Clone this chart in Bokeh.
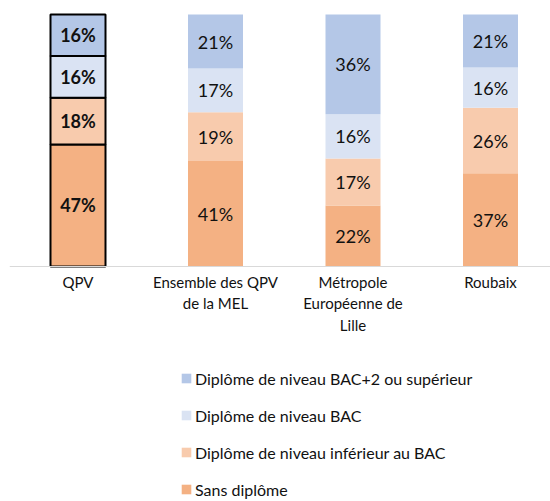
import numpy as np
from bokeh.plotting import figure
from bokeh.models import Range1d, FixedTicker, Legend, LegendItem
from bokeh.core.properties import value
from bokeh.embed import file_html
from bokeh.resources import INLINE

# ---- data ----
categories = ["QPV", "Ensemble des QPV\nde la MEL", "Métropole\nEuropéenne de\nLille", "Roubaix"]
series = ["Sans diplôme", "Diplôme de niveau inférieur au BAC",
          "Diplôme de niveau BAC", "Diplôme de niveau BAC+2 ou supérieur"]
sans_diplome = [47, 41, 22, 37]
inferieur_bac = [18, 19, 17, 26]
niveau_bac = [16, 17, 16, 16]
bac_plus_2 = [16, 21, 36, 21]
colors = ["#F4B183", "#F8CBAD", "#DAE3F3", "#B4C7E7"]
highlighted = ["QPV"]

FONT = "Lato"

vals = np.array([sans_diplome, inferieur_bac, niveau_bac, bac_plus_2], dtype=float)
frac = vals / vals.sum(axis=0)          # 100 % stacked
tops = np.cumsum(frac, axis=0)
bottoms = tops - frac
xs = np.arange(len(categories))
hl = [c.split("\n")[0] in highlighted for c in categories]

W, H = 550, 501
LEFT = 9
FW = W - LEFT
p = figure(width=W, height=H, output_backend="svg", toolbar_location=None,
           x_range=Range1d(-68.5 / 137.5, (FW - 68.5) / 137.5),
           y_range=Range1d(-(H - 266) / 252, 1 + 14 / 252),
           min_border=0, min_border_left=LEFT, min_border_right=0,
           min_border_top=0, min_border_bottom=0)
p.outline_line_color = None
p.grid.visible = False
p.yaxis.visible = False

renderers = []
for s in range(len(series)):
    r = p.vbar(x=xs, width=0.4, bottom=bottoms[s], top=tops[s],
               fill_color=colors[s], line_color="black",
               line_alpha=[1.0 if h else 0.0 for h in hl], line_width=2)
    renderers.append(r)
    p.text(x=xs, y=(bottoms[s] + tops[s]) / 2,
           text=[f"{int(v)}%" for v in vals[s]],
           text_align="center", text_baseline="middle",
           text_font=value(FONT), text_font_size="18px",
           text_font_style=["bold" if h else "normal" for h in hl],
           text_color="#111111")

ax = p.xaxis[0]
ax.fixed_location = 0
ax.ticker = FixedTicker(ticks=list(xs))
ax.major_label_overrides = {float(i): categories[i] for i in xs}
ax.major_tick_line_color = None
ax.minor_tick_line_color = None
ax.axis_line_color = "#D9D9D9"
ax.axis_line_width = 1
ax.major_label_standoff = 0
ax.major_label_text_font = FONT
ax.major_label_text_font_size = "15px"
ax.major_label_text_color = "#111111"

plain = hl.index(False)
items = [LegendItem(label=series[s], renderers=[renderers[s]], index=plain)
         for s in reversed(range(len(series)))]
legend = Legend(items=items, location=(180 - LEFT, 2), orientation="vertical",
                glyph_width=12, glyph_height=12, label_height=20, spacing=17,
                padding=0, margin=0, border_line_alpha=0, background_fill_alpha=0,
                label_standoff=3, label_text_font=FONT, label_text_font_size="16px",
                label_text_color="#111111")
p.add_layout(legend)

open("out.html", "w").write(file_html(p, INLINE))
